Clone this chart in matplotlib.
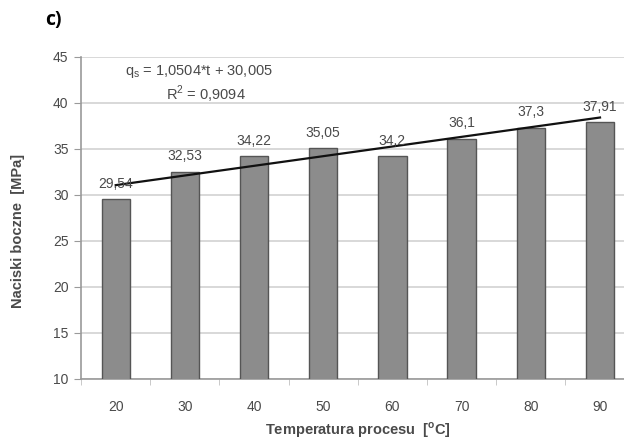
import numpy as np
import matplotlib
matplotlib.use("Agg")
import matplotlib.pyplot as plt

# lateral pressure vs process temperature
temps = [20, 30, 40, 50, 60, 70, 80, 90]
pressure = [29.54, 32.53, 34.22, 35.05, 34.2, 36.1, 37.3, 37.91]
labels = ["29,54", "32,53", "34,22", "35,05", "34,2", "36,1", "37,3", "37,91"]
fit_slope = 1.0504
fit_intercept = 30.005
fit_r2 = "0,9094"

plt.rcParams['font.family'] = ['Liberation Sans', 'DejaVu Sans']
txt = '#4a4a4a'

fig = plt.figure(figsize=(6.24, 4.41), dpi=100)
ax = fig.add_axes([0.13, 0.141, 0.887, 0.730])

x = np.arange(len(temps))
ax.bar(x, pressure, width=0.41, color='#8c8c8c', edgecolor='#555555', linewidth=1.0, zorder=3)

# Excel-style linear trend over category index 1..n
t = x + 1
ax.plot(x, fit_slope * t + fit_intercept, color='#111111', linewidth=1.6, zorder=4)

for xi, v, lab in zip(x, pressure, labels):
    ax.text(xi, v + 0.9, lab, ha='center', va='bottom', fontsize=10, color=txt, zorder=5)

ax.text(1.2, 43.4, r"q$_\mathregular{s}$ = 1,0504*t + 30,005", ha='center', va='center',
        fontsize=10.5, color=txt)
ax.text(1.3, 40.9, r"R$^\mathregular{2}$ = " + fit_r2, ha='center', va='center',
        fontsize=10.5, color=txt)

ax.set_xlim(-0.5, len(temps) - 0.5)
ax.set_ylim(10, 45)
ax.set_yticks(range(10, 46, 5))
ax.set_xticks(x)
ax.set_xticklabels([str(v) for v in temps])
ax.set_xticks(np.arange(-0.5, len(temps), 1.0), minor=True)

ax.grid(True, axis='y', color='#d2d2d2', linewidth=1.2, zorder=0)
ax.set_axisbelow(True)

for s in ['top', 'right']:
    ax.spines[s].set_visible(False)
for s in ['left', 'bottom']:
    ax.spines[s].set_color('#9a9a9a')
    ax.spines[s].set_linewidth(1.2)

ax.tick_params(axis='y', length=5, color='#9a9a9a', labelsize=10, labelcolor=txt, pad=4)
ax.tick_params(axis='x', which='major', length=0, labelsize=10, labelcolor=txt, pad=15)
ax.tick_params(axis='x', which='minor', length=4, color='#c0c0c0')

ax.set_ylabel("Naciski boczne  [MPa]", fontsize=10.5, fontweight='bold', color=txt,
              va='center')
ax.yaxis.set_label_coords(-0.114, 0.46)
ax.set_xlabel("Temperatura procesu  [$^\\mathregular{o}$C]", fontsize=10.5, fontweight='bold',
              color=txt, va='center')
ax.xaxis.set_label_coords(0.5, -0.16)

fig.text(0.072, 0.955, "c)", fontsize=14, fontweight='bold', color='black', ha='left', va='center',
         family=['Open Sans', 'DejaVu Sans'])

fig.savefig("out.png", dpi=100)
